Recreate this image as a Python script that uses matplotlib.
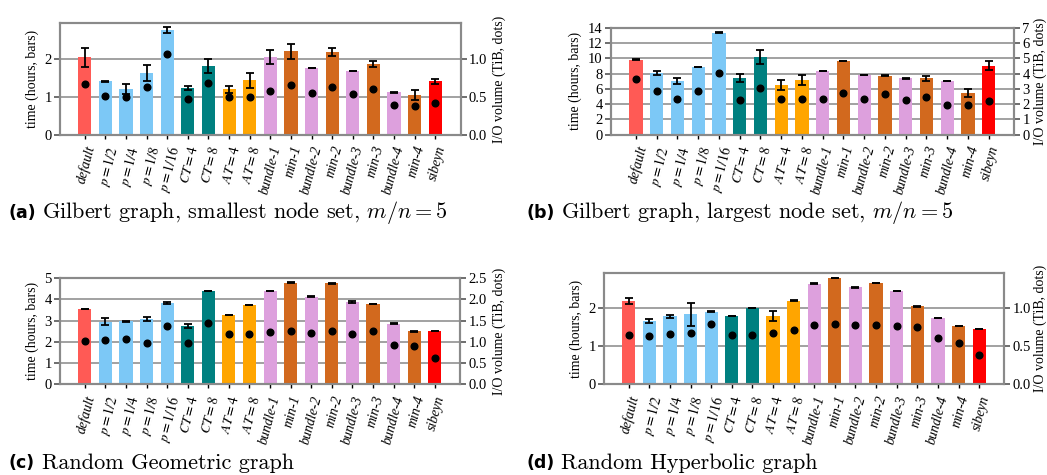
import matplotlib
matplotlib.use("Agg")
import matplotlib.pyplot as plt
import numpy as np

plt.rcParams['font.family'] = ['Liberation Serif', 'DejaVu Serif']
plt.rcParams['mathtext.fontset'] = 'stix'

labels = ['default', '$p=1/2$', '$p=1/4$', '$p=1/8$', '$p=1/16$',
          '$CT=4$', '$CT=8$', '$AT=4$', '$AT=8$',
          'bundle-1', 'min-1', 'bundle-2', 'min-2', 'bundle-3', 'min-3',
          'bundle-4', 'min-4', 'sibeyn']

# bar colours, one per label
colors = (['#FF5A55'] + ['#7CC8F6'] * 4 + ['#008080'] * 2 + ['#FFA500'] * 2
          + ['#DDA0DD', '#D2691E'] * 4 + ['#FF0000'])

# (a) Gilbert, smallest node set
a_time = [2.06, 1.42, 1.21, 1.64, 2.78, 1.24, 1.82, 1.21, 1.45,
          2.06, 2.22, 1.77, 2.19, 1.69, 1.88, 1.13, 1.05, 1.42]
a_err = [0.25, 0.01, 0.13, 0.22, 0.09, 0.05, 0.19, 0.09, 0.20,
         0.19, 0.20, 0.01, 0.11, 0.01, 0.08, 0.01, 0.13, 0.06]
a_io = [0.68, 0.52, 0.50, 0.63, 1.075, 0.48, 0.69, 0.50, 0.50,
        0.575, 0.66, 0.56, 0.64, 0.545, 0.605, 0.40, 0.375, 0.42]

# (b) Gilbert, largest node set
b_time = [9.85, 8.09, 7.04, 8.88, 13.4, 7.44, 10.19, 6.52, 7.17,
          8.36, 9.67, 7.83, 7.74, 7.39, 7.39, 7.04, 5.47, 9.06]
b_err = [0.05, 0.30, 0.35, 0.05, 0.05, 0.50, 0.94, 0.65, 0.65,
         0.05, 0.05, 0.05, 0.05, 0.05, 0.35, 0.05, 0.50, 0.60]
b_io = [3.63, 2.89, 2.32, 2.87, 4.02, 2.30, 3.08, 2.36, 2.36,
        2.36, 2.71, 2.32, 2.65, 2.25, 2.49, 1.95, 1.92, 2.23]

# (c) Random Geometric
c_time = [3.54, 2.95, 2.96, 3.06, 3.82, 2.74, 4.39, 3.26, 3.73,
          4.39, 4.78, 4.12, 4.76, 3.87, 3.78, 2.85, 2.49, 2.51]
c_err = [0.02, 0.16, 0.02, 0.10, 0.05, 0.10, 0.02, 0.02, 0.02,
         0.02, 0.03, 0.02, 0.02, 0.03, 0.02, 0.02, 0.02, 0.02]
c_io = [1.03, 1.04, 1.07, 0.97, 1.36, 0.97, 1.44, 1.18, 1.18,
        1.24, 1.26, 1.21, 1.26, 1.18, 1.25, 0.925, 0.90, 0.63]

# (d) Random Hyperbolic
d_time = [2.18, 1.65, 1.77, 1.83, 1.89, 1.78, 1.99, 1.78, 2.18,
          2.62, 2.77, 2.53, 2.64, 2.43, 2.03, 1.73, 1.52, 1.44]
d_err = [0.08, 0.05, 0.03, 0.30, 0.01, 0.01, 0.01, 0.14, 0.01,
         0.01, 0.01, 0.01, 0.01, 0.01, 0.01, 0.01, 0.01, 0.01]
d_io = [0.64, 0.635, 0.65, 0.665, 0.79, 0.64, 0.64, 0.67, 0.71,
        0.77, 0.78, 0.77, 0.77, 0.765, 0.75, 0.60, 0.54, 0.38]

W, H = 1047, 475
fig = plt.figure(figsize=(W / 100, H / 100), dpi=100)

GREY = '#8a8a8a'


def px_rect(x0, y0, x1, y1):
    return [x0 / W, 1 - y1 / H, (x1 - x0) / W, (y1 - y0) / H]


def panel(rect, time, err, io, ytop, yticks, rticks, rlabels, rpad=4):
    ax = fig.add_axes(rect)
    x = np.arange(len(labels))
    ax.bar(x, time, width=0.64, color=colors, zorder=2)
    ax.errorbar(x, time, yerr=err, fmt='none', ecolor='black', elinewidth=1.3,
                capsize=2.8, capthick=1.3, zorder=3)
    ax.set_xlim(-1.2, len(labels) - 1 + 1.22)
    ax.set_ylim(0, ytop)
    ax.set_yticks(yticks)
    ax.yaxis.grid(True, color='#9a9a9a', linewidth=1.3, zorder=0)
    ax.set_axisbelow(True)
    ax.set_xticks(x)
    ax.set_xticklabels(labels, rotation=75, ha='right', rotation_mode='anchor',
                       fontsize=10, fontstyle='italic')
    ax.tick_params(axis='x', length=3, width=1, color='black', pad=4)
    ax.tick_params(axis='y', length=4, width=1.2, color='#555555',
                   labelsize=10.5, pad=2)
    ax.set_ylabel('time (hours, bars)', fontsize=10, labelpad=4)
    for s in ax.spines.values():
        s.set_color(GREY)
        s.set_linewidth(1.5)

    ax2 = ax.twinx()
    ax2.plot(x, io, 'o', color='black', markersize=4.8, zorder=4)
    ax2.set_ylim(0, ytop / 2)
    ax2.set_yticks(rticks)
    ax2.set_yticklabels(rlabels)
    ax2.tick_params(axis='y', length=4, width=1.2, color='#555555',
                    labelsize=10.5, pad=2)
    ax2.set_ylabel('I/O volume (TiB, dots)', fontsize=10, labelpad=rpad)
    for s in ax2.spines.values():
        s.set_color(GREY)
        s.set_linewidth(1.5)
    return ax


panel(px_rect(60, 23.3, 460.5, 134.7), a_time, a_err, a_io, 2.96,
      [0, 1, 2], [0, 0.5, 1.0], ['0.0', '0.5', '1.0'])
panel(px_rect(611, 28, 1014, 134.7), b_time, b_err, b_io, 14,
      range(0, 15, 2), range(0, 8), [str(v) for v in range(0, 8)], rpad=3)
panel(px_rect(60, 278, 460, 384.3), c_time, c_err, c_io, 5,
      range(0, 6), [0, 0.5, 1.0, 1.5, 2.0, 2.5],
      ['0.0', '0.5', '1.0', '1.5', '2.0', '2.5'])
panel(px_rect(604, 272.7, 1004.3, 384.3), d_time, d_err, d_io, 2.91,
      [0, 1, 2], [0, 0.5, 1.0], ['0.0', '0.5', '1.0'], rpad=2)

captions = [
    (8, 213, '(a)', 'Gilbert graph, smallest node set, $m/n = 5$'),
    (527, 213, '(b)', 'Gilbert graph, largest node set, $m/n = 5$'),
    (8, 463, '(c)', 'Random Geometric graph'),
    (527, 463, '(d)', 'Random Hyperbolic graph'),
]
for cx, cy, tag, text in captions:
    fig.text(cx / W, 1 - cy / H, tag, family='DejaVu Sans', weight='bold',
             fontsize=12.5, va='center')
    fig.text((cx + 34) / W, 1 - cy / H, text, family='cmr10',
             math_fontfamily='cm', fontsize=16, va='center')

fig.savefig('out.png', dpi=100)
